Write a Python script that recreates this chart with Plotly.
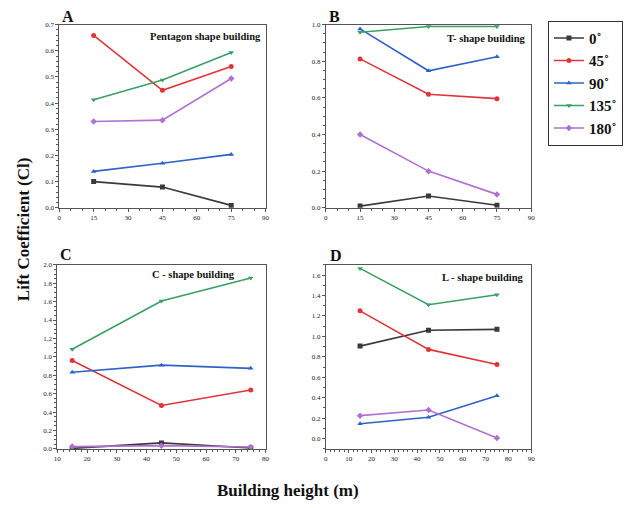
import plotly.graph_objects as go

heights = [15, 45, 75]
angles = ["0˚", "45˚", "90˚", "135˚", "180˚"]

pentagon_0 = [0.100, 0.079, 0.009]
pentagon_45 = [0.659, 0.449, 0.540]
pentagon_90 = [0.139, 0.170, 0.204]
pentagon_135 = [0.413, 0.488, 0.594]
pentagon_180 = [0.330, 0.335, 0.494]

t_0 = [0.009, 0.064, 0.014]
t_45 = [0.813, 0.620, 0.596]
t_90 = [0.977, 0.748, 0.825]
t_135 = [0.959, 0.990, 0.990]
t_180 = [0.400, 0.200, 0.073]

c_0 = [0.005, 0.065, 0.010]
c_45 = [0.960, 0.471, 0.639]
c_90 = [0.832, 0.910, 0.875]
c_135 = [1.082, 1.607, 1.857]
c_180 = [0.025, 0.035, 0.020]

l_0 = [0.905, 1.060, 1.069]
l_45 = [1.250, 0.873, 0.725]
l_90 = [0.145, 0.209, 0.419]
l_135 = [1.665, 1.310, 1.407]
l_180 = [0.225, 0.280, 0.006]

colors = ["#3a3a3a", "#e0353a", "#2f62c8", "#3aa065", "#b071d2"]
symbols = ["square", "circle", "triangle-up", "triangle-down", "diamond"]

panels = [
    ("x", "y", [pentagon_0, pentagon_45, pentagon_90, pentagon_135, pentagon_180]),
    ("x2", "y2", [t_0, t_45, t_90, t_135, t_180]),
    ("x3", "y3", [c_0, c_45, c_90, c_135, c_180]),
    ("x4", "y4", [l_0, l_45, l_90, l_135, l_180]),
]

W, H = 626, 508
def px(x0, x1):
    return [x0 / W, x1 / W]
def py(y0, y1):
    return [1 - y1 / H, 1 - y0 / H]

fig = go.Figure()
for pi, (xa, ya, series) in enumerate(panels):
    for i, vals in enumerate(series):
        fig.add_trace(go.Scatter(
            x=heights, y=vals, xaxis=xa, yaxis=ya, mode="lines+markers",
            name="<b>" + angles[i] + "</b>", showlegend=(pi == 0),
            line=dict(color=colors[i], width=1.6),
            marker=dict(symbol=symbols[i], size=5, color=colors[i]),
        ))

tickfont = dict(family="Liberation Serif", size=7, color="#222")
common = dict(showline=True, mirror=True, linecolor="#555", linewidth=1,
              ticks="outside", ticklen=3, tickcolor="#555", showgrid=False,
              zeroline=False, tickfont=tickfont,
              minor=dict(ticks="outside", ticklen=2, tickcolor="#555"))

fig.update_layout(
    width=W, height=H, margin=dict(l=0, r=0, t=0, b=0),
    plot_bgcolor="white", paper_bgcolor="white",
    xaxis=dict(domain=px(56, 265), range=[0, 90], tickvals=[0, 15, 30, 45, 60, 75, 90], anchor="y", **common),
    yaxis=dict(domain=py(21, 207), range=[0, 0.7], dtick=0.1, tickformat=".1f", anchor="x", **common),
    xaxis2=dict(domain=px(326, 534), range=[0, 90], tickvals=[0, 15, 30, 45, 60, 75, 90], anchor="y2", **common),
    yaxis2=dict(domain=py(21, 207), range=[0, 1.0], dtick=0.2, tickformat=".1f", anchor="x2", **common),
    xaxis3=dict(domain=px(54, 265), range=[10, 80], dtick=10, anchor="y3", **common),
    yaxis3=dict(domain=py(265, 452), range=[0, 2.0], dtick=0.2, tickformat=".1f", anchor="x3", **common),
    xaxis4=dict(domain=px(326, 534), range=[0, 90], dtick=10, anchor="y4", **common),
    yaxis4=dict(domain=py(265, 452), range=[-0.1, 1.7], tickvals=[0, 0.2, 0.4, 0.6, 0.8, 1.0, 1.2, 1.4, 1.6], tickformat=".1f", anchor="x4", **common),
    legend=dict(x=551 / W, y=1 - 17 / H, xanchor="left", yanchor="top",
                bordercolor="#333", borderwidth=1, bgcolor="white",
                font=dict(family="Liberation Serif", size=15, color="#111"),
                itemwidth=30, tracegroupgap=0),
)

ann_font = dict(family="Liberation Serif", size=16, color="#111")
lab_font = dict(family="Liberation Serif", size=10.5, color="#111")
annotations = [
    dict(text="<b>A</b>", x=57 / W, y=1 - 13 / H),
    dict(text="<b>B</b>", x=327 / W, y=1 - 13 / H),
    dict(text="<b>C</b>", x=55 / W, y=1 - 255 / H),
    dict(text="<b>D</b>", x=328 / W, y=1 - 256 / H),
]
for a in annotations:
    fig.add_annotation(xref="paper", yref="paper", showarrow=False, xanchor="left",
                       yanchor="middle", font=ann_font, **a)

inner = [
    ("<b>Pentagon shape building</b>", 262, 33),
    ("<b>T- shape building</b>", 531, 35),
    ("<b>C - shape building</b>", 236, 275),
    ("<b>L - shape building</b>", 529, 278),
]
for t, x, y in inner:
    fig.add_annotation(xref="paper", yref="paper", showarrow=False, xanchor="right",
                       yanchor="middle", text=t, x=x / W, y=1 - y / H, font=lab_font)

fig.add_annotation(xref="paper", yref="paper", showarrow=False, text="<b>Lift Coefficient (Cl)</b>",
                   x=20 / W, y=1 - 229 / H, textangle=-90, xanchor="center", yanchor="middle",
                   font=dict(family="Liberation Serif", size=17, color="#111"))
fig.add_annotation(xref="paper", yref="paper", showarrow=False, text="<b>Building height (m)</b>",
                   x=288 / W, y=1 - 494 / H, xanchor="center", yanchor="middle",
                   font=dict(family="Liberation Serif", size=17, color="#111"))

fig.write_html("out.html")
